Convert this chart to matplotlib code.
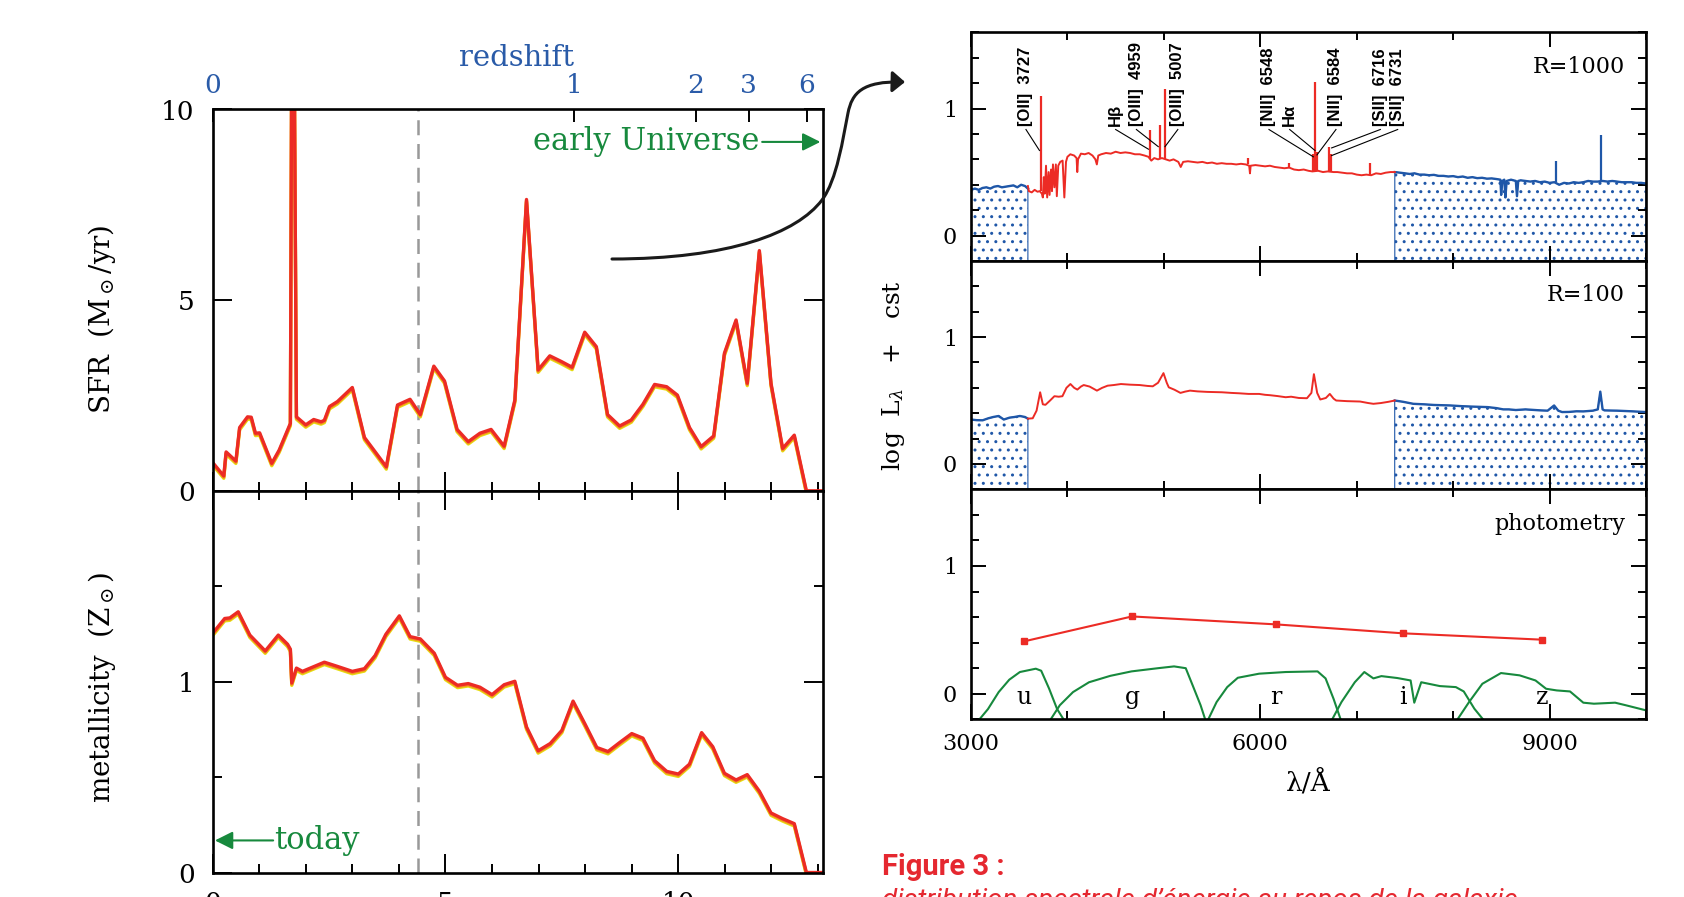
import numpy as np
import matplotlib.pyplot as plt
import matplotlib.transforms as mtransforms
from matplotlib.patches import FancyArrowPatch
from matplotlib.path import Path
from matplotlib.ticker import FixedLocator, MultipleLocator, NullLocator

plt.rcParams['font.family'] = ['DejaVu Serif']
plt.rcParams['mathtext.fontset'] = 'dejavuserif'
plt.rcParams['hatch.linewidth'] = 1.0

RED = '#ec2b25'
BLUE = '#1f57a8'
GREEN = '#17893d'
ZBLUE = '#2a5ba8'
ORANGE = '#f39020'
YELLOW = '#e6de10'
CAP = '#e52830'

# ---- star formation history (lookback time in Gyr) ----
sfr_t = [0.03, 0.24, 0.29, 0.50, 0.58, 0.75, 0.83, 0.92, 1.01, 1.27,
         1.43, 1.67, 1.70, 1.75, 1.80, 2.00, 2.17, 2.33, 2.40, 2.51,
         2.68, 3.00, 3.26, 3.73, 3.97, 4.24, 4.46, 4.75, 4.98, 5.25,
         5.49, 5.74, 5.98, 6.26, 6.49, 6.74, 6.99, 7.24, 7.49, 7.72,
         7.99, 8.24, 8.48, 8.74, 8.99, 9.24, 9.49, 9.75, 9.98, 10.24,
         10.49, 10.76, 10.99, 11.24, 11.48, 11.74, 11.99, 12.24, 12.49, 12.75,
         13.1]
sfr = [0.70, 0.39, 1.02, 0.78, 1.66, 1.94, 1.93, 1.51, 1.52, 0.72,
       1.07, 1.77, 12.0, 12.0, 1.94, 1.73, 1.87, 1.81, 1.85, 2.21,
       2.34, 2.71, 1.40, 0.63, 2.25, 2.40, 2.00, 3.27, 2.88, 1.61,
       1.29, 1.51, 1.61, 1.17, 2.38, 7.64, 3.17, 3.54, 3.39, 3.24,
       4.16, 3.78, 2.00, 1.70, 1.86, 2.27, 2.79, 2.73, 2.51, 1.66,
       1.16, 1.44, 3.61, 4.48, 2.82, 6.30, 2.82, 1.11, 1.46, 0.0,
       0.0]

met_t = [0.03, 0.26, 0.37, 0.55, 0.80, 1.13, 1.41, 1.61, 1.67, 1.70,
         1.80, 1.93, 2.40, 2.68, 3.00, 3.26, 3.49, 3.72, 4.01, 4.24,
         4.46, 4.76, 5.00, 5.26, 5.49, 5.74, 6.00, 6.26, 6.49, 6.74,
         6.99, 7.25, 7.50, 7.74, 8.00, 8.25, 8.49, 8.74, 9.00, 9.24,
         9.49, 9.75, 10.00, 10.24, 10.50, 10.74, 10.99, 11.24, 11.48, 11.74,
         11.99, 12.24, 12.49, 12.75, 13.1]
met = [1.262, 1.331, 1.334, 1.366, 1.244, 1.161, 1.244, 1.196, 1.17, 0.993,
       1.071, 1.054, 1.102, 1.080, 1.054, 1.068, 1.137, 1.248, 1.345, 1.236,
       1.224, 1.149, 1.023, 0.981, 0.990, 0.971, 0.932, 0.984, 1.002, 0.763,
       0.638, 0.676, 0.745, 0.898, 0.776, 0.655, 0.634, 0.681, 0.728, 0.704,
       0.586, 0.530, 0.516, 0.568, 0.733, 0.659, 0.520, 0.485, 0.513, 0.426,
       0.312, 0.282, 0.256, 0.0, 0.0]

cut_time = 4.42
z_labels = ['0', '1', '2', '3', '6']
z_time = [0.0, 7.77, 10.38, 11.51, 12.76]

# ---- R=1000 spectrum ----
hr_b1_wl = [3000, 3040, 3080, 3120, 3160, 3200, 3240, 3280, 3320, 3360,
            3400, 3440, 3480, 3520, 3560, 3590]
hr_b1_v = [0.36, 0.37, 0.36, 0.375, 0.38, 0.37, 0.385, 0.39, 0.38, 0.385,
           0.39, 0.395, 0.38, 0.40, 0.39, 0.37]
hr_r_wl = [3590, 3600, 3630, 3660, 3690, 3712, 3735, 3745, 3755, 3765, 3778, 3790,
           3805, 3815, 3830, 3840, 3850, 3865, 3880, 3890, 3905, 3925, 3950, 3968,
           3985, 4000, 4030, 4070, 4095, 4102, 4110, 4140, 4180, 4220, 4260, 4290,
           4305, 4320, 4350, 4400, 4450, 4500, 4550, 4600, 4650, 4700, 4750, 4800,
           4840, 4870, 4900, 4940, 4980, 5020, 5060, 5100, 5150, 5175, 5200, 5250,
           5300, 5350, 5400, 5450, 5500, 5550, 5600, 5650, 5700, 5750, 5800, 5850,
           5885, 5893, 5900, 5950, 6000, 6050, 6100, 6150, 6200, 6250, 6300, 6350,
           6400, 6450, 6500, 6540, 6600, 6650, 6700, 6760, 6800, 6850, 6900, 6950,
           7000, 7050, 7100, 7150, 7200, 7250, 7300, 7350, 7395]
hr_r_v = [0.39, 0.35, 0.34, 0.36, 0.345, 0.35, 0.33, 0.30, 0.46, 0.33, 0.55, 0.30,
          0.50, 0.32, 0.52, 0.35, 0.56, 0.38, 0.56, 0.31, 0.55, 0.58, 0.59, 0.30,
          0.58, 0.62, 0.64, 0.63, 0.61, 0.50, 0.60, 0.645, 0.64, 0.65, 0.63, 0.60,
          0.56, 0.63, 0.64, 0.65, 0.645, 0.66, 0.65, 0.655, 0.65, 0.64, 0.64, 0.63,
          0.62, 0.59, 0.61, 0.60, 0.61, 0.60, 0.59, 0.60, 0.58, 0.54, 0.58, 0.585,
          0.58, 0.575, 0.58, 0.57, 0.575, 0.565, 0.57, 0.565, 0.565, 0.56, 0.565, 0.56,
          0.55, 0.49, 0.55, 0.555, 0.55, 0.545, 0.55, 0.54, 0.535, 0.53, 0.535, 0.52,
          0.515, 0.52, 0.51, 0.505, 0.51, 0.50, 0.505, 0.50, 0.50, 0.495, 0.49, 0.49,
          0.48, 0.475, 0.48, 0.475, 0.49, 0.485, 0.495, 0.50, 0.50]
hr_b2_wl = [7395, 7450, 7500, 7550, 7600, 7650, 7700, 7750, 7800, 7850,
            7900, 7950, 8000, 8050, 8100, 8150, 8200, 8250, 8300, 8350,
            8400, 8450, 8490, 8498, 8510, 8530, 8542, 8555, 8600, 8650,
            8662, 8675, 8700, 8750, 8800, 8850, 8900, 8950, 9000, 9050,
            9100, 9150, 9200, 9250, 9300, 9350, 9400, 9450, 9500, 9550,
            9600, 9650, 9700, 9750, 9800, 9850, 9900, 9950, 10000]
hr_b2_v = [0.50, 0.495, 0.49, 0.485, 0.49, 0.48, 0.48, 0.475, 0.478, 0.47,
           0.47, 0.465, 0.468, 0.46, 0.465, 0.455, 0.46, 0.452, 0.455, 0.448,
           0.45, 0.445, 0.44, 0.32, 0.43, 0.44, 0.30, 0.43, 0.44, 0.43,
           0.31, 0.43, 0.435, 0.43, 0.425, 0.43, 0.42, 0.425, 0.415, 0.42,
           0.40, 0.415, 0.41, 0.42, 0.415, 0.42, 0.43, 0.425, 0.425, 0.43,
           0.425, 0.43, 0.425, 0.42, 0.42, 0.42, 0.415, 0.415, 0.41]

em_wl = [3727, 4861, 4959, 5007, 5876, 6300, 6548, 6563, 6584, 6716, 6731, 7136]
em_base = [0.35, 0.60, 0.60, 0.60, 0.56, 0.53, 0.51, 0.51, 0.51, 0.50, 0.50, 0.48]
em_peak = [1.10, 0.83, 0.87, 1.15, 0.61, 0.57, 0.64, 1.21, 0.66, 0.70, 0.64, 0.57]
em_b_wl = [9069, 9532]
em_b_base = [0.42, 0.425]
em_b_peak = [0.59, 0.79]

line_names = ['[OII]  3727', 'H\u03b2', '[OIII]  4959', '[OIII]  5007', '[NII]  6548',
              'H\u03b1', '[NII]  6584', '[SII]  6716', '[SII]  6731']
label_wl = [3570, 4500, 4715, 5145, 6090, 6305, 6785, 7245, 7425]
target_wl = [3710, 4840, 4942, 5012, 6550, 6567, 6588, 6740, 6740]
target_v = [0.67, 0.68, 0.70, 0.70, 0.62, 0.67, 0.635, 0.69, 0.63]

# ---- R=100 spectrum ----
lr_b1_wl = [3000, 3060, 3121, 3180, 3230, 3287, 3340, 3400, 3450, 3507, 3560, 3590]
lr_b1_v = [0.35, 0.345, 0.344, 0.36, 0.37, 0.378, 0.35, 0.365, 0.37, 0.378, 0.37, 0.357]
lr_r_wl = [3590, 3640, 3680, 3717, 3745, 3772, 3820, 3865, 3910, 3948, 3990, 4031,
           4070, 4103, 4140, 4169, 4230, 4306, 4360, 4417, 4480, 4555, 4650, 4750,
           4830, 4885, 4940, 4996, 5030, 5051, 5110, 5172, 5220, 5271, 5350, 5450,
           5602, 5700, 5780, 5878, 5988, 6050, 6100, 6180, 6263, 6320, 6400, 6484,
           6530, 6556, 6590, 6622, 6680, 6721, 6760, 6787, 6900, 7035, 7120, 7173,
           7250, 7330, 7394]
lr_r_v = [0.357, 0.36, 0.42, 0.565, 0.47, 0.466, 0.50, 0.534, 0.53, 0.534, 0.60, 0.63,
          0.60, 0.586, 0.61, 0.622, 0.61, 0.578, 0.60, 0.617, 0.622, 0.63, 0.625, 0.622,
          0.615, 0.612, 0.64, 0.716, 0.64, 0.604, 0.585, 0.56, 0.57, 0.578, 0.572, 0.568,
          0.565, 0.56, 0.557, 0.552, 0.552, 0.545, 0.542, 0.535, 0.526, 0.53, 0.52, 0.518,
          0.56, 0.708, 0.56, 0.508, 0.52, 0.552, 0.515, 0.50, 0.495, 0.492, 0.48, 0.474,
          0.48, 0.49, 0.50]
lr_b2_wl = [7394, 7480, 7587, 7700, 7800, 7972, 8100, 8200, 8358, 8450, 8520, 8578,
            8650, 8750, 8910, 8980, 9047, 9090, 9130, 9200, 9280, 9350, 9450, 9500,
            9526, 9550, 9570, 9700, 9850, 10000]
lr_b2_v = [0.50, 0.49, 0.474, 0.47, 0.465, 0.461, 0.455, 0.452, 0.448, 0.44, 0.43, 0.43,
           0.425, 0.43, 0.422, 0.42, 0.461, 0.42, 0.409, 0.41, 0.415, 0.414, 0.42, 0.43,
           0.57, 0.43, 0.422, 0.42, 0.415, 0.409]

# ---- photometry ----
bands = ['u', 'g', 'r', 'i', 'z']
ph_wl = [3551, 4670, 6159, 7476, 8926]
ph_v = [0.41, 0.605, 0.543, 0.473, 0.423]
u_wl = [3066, 3176, 3287, 3397, 3507, 3672, 3728, 3810, 3893, 3976]
u_v = [-0.22, -0.12, 0.013, 0.11, 0.17, 0.196, 0.18, 0.04, -0.12, -0.22]
g_wl = [3810, 3921, 4058, 4224, 4444, 4665, 4940, 5106, 5227, 5299, 5381, 5437]
g_v = [-0.22, -0.09, 0.013, 0.09, 0.14, 0.175, 0.2, 0.214, 0.2, 0.065, -0.09, -0.22]
r_wl = [5448, 5547, 5657, 5767, 5988, 6263, 6594, 6677, 6760, 6842]
r_v = [-0.22, -0.065, 0.052, 0.125, 0.157, 0.17, 0.175, 0.12, -0.04, -0.22]
i_wl = [6732, 6842, 6980, 7079, 7173, 7256, 7421, 7559, 7597, 7669, 7862, 8028, 8110, 8220, 8331]
i_v = [-0.22, -0.065, 0.09, 0.17, 0.12, 0.138, 0.123, 0.104, -0.07, 0.09, 0.06, 0.052, 0.018, -0.117, -0.22]
z_wl = [8028, 8165, 8303, 8496, 8689, 8854, 8964, 9074, 9212, 9350, 9460, 9680, 9790, 10000]
z_v = [-0.22, -0.065, 0.078, 0.162, 0.144, 0.104, 0.039, 0.026, 0.018, -0.07, -0.078, -0.07, -0.09, -0.13]

W, H = 1684, 897
fig = plt.figure(figsize=(W / 100, H / 100), dpi=100)


def box(x0, y0, x1, y1):
    # pixel box measured from the top-left corner
    return [x0 / W, 1 - y1 / H, (x1 - x0) / W, (y1 - y0) / H]


def frame(ax, major, minor, size, pad):
    for s in ax.spines.values():
        s.set_linewidth(1.9)
    ax.tick_params(which='both', direction='in', top=True, right=True, width=1.4,
                   labelsize=size, pad=pad)
    ax.tick_params(which='major', length=major)
    ax.tick_params(which='minor', length=minor)


def band(ax, x, y):
    # yellow / orange / red stack of the model curves
    for dy, c in ((-2.4, YELLOW), (-1.2, ORANGE), (0.0, RED)):
        tr = mtransforms.offset_copy(ax.transData, fig=fig, x=0, y=dy, units='dots')
        ax.plot(x, y, color=c, lw=2.4, transform=tr)


# ---- left: SFR and metallicity ----
ax_sfr = fig.add_axes(box(212.6, 109.5, 822.7, 490.8))
ax_met = fig.add_axes(box(212.6, 490.8, 822.7, 872.5))
for ax in (ax_sfr, ax_met):
    frame(ax, 13.7, 6.5, 19, 13)
    ax.set_xlim(0, 13.1)
    ax.xaxis.set_major_locator(FixedLocator([0, 5, 10]))
    ax.xaxis.set_minor_locator(MultipleLocator(1))
    ax.axvline(cut_time, color='#999999', lw=1.8, ls=(0, (6, 3.5)), zorder=1)
ax_sfr.tick_params(axis='x', which='both', top=False, labelbottom=False)

ax_sfr.set_ylim(0, 10)
ax_sfr.yaxis.set_major_locator(FixedLocator([0, 5, 10]))
band(ax_sfr, sfr_t, sfr)

ax_met.set_ylim(0, 2)
ax_met.yaxis.set_major_locator(FixedLocator([0, 1]))
ax_met.yaxis.set_minor_locator(FixedLocator([0.5, 1.5]))
band(ax_met, met_t, met)

ax_zs = ax_sfr.twiny()
ax_zs.set_xlim(0, 13.1)
ax_zs.xaxis.set_major_locator(FixedLocator(z_time))
ax_zs.xaxis.set_minor_locator(NullLocator())
ax_zs.set_xticklabels(z_labels)
ax_zs.tick_params(axis='x', direction='in', length=9.4, width=1.4, labelsize=19,
                  labelcolor=ZBLUE, pad=8)
for s in ax_zs.spines.values():
    s.set_visible(False)
ax_sfr.text(0.498, 1.113, 'redshift', transform=ax_sfr.transAxes, color=ZBLUE,
            fontsize=21, ha='center', va='baseline')

ax_sfr.text(11.75, 9.15, 'early Universe', color=GREEN, fontsize=22, ha='right', va='center')
ax_sfr.annotate('', xy=(13.05, 9.15), xytext=(11.8, 9.15),
                arrowprops=dict(arrowstyle='-|>,head_length=0.6,head_width=0.3',
                                color=GREEN, lw=1.5, shrinkA=0, shrinkB=0, mutation_scale=18))
ax_met.text(1.32, 0.168, 'today', color=GREEN, fontsize=22, ha='left', va='center')
ax_met.annotate('', xy=(0.05, 0.168), xytext=(1.3, 0.168),
                arrowprops=dict(arrowstyle='-|>,head_length=0.6,head_width=0.3',
                                color=GREEN, lw=1.5, shrinkA=0, shrinkB=0, mutation_scale=18))

fig.text(102 / W, 1 - 319 / H, 'SFR  (M$_\\odot$/yr)', rotation=90, fontsize=20,
         ha='center', va='center')
fig.text(102 / W, 1 - 687 / H, 'metallicity  (Z$_\\odot$)', rotation=90, fontsize=20,
         ha='center', va='center')

# ---- right: spectra ----
ax_hr = fig.add_axes(box(971, 32.3, 1646, 261))
ax_lr = fig.add_axes(box(971, 261, 1646, 489.3))
ax_ph = fig.add_axes(box(971, 489.3, 1646, 719.3))
for ax in (ax_hr, ax_lr, ax_ph):
    frame(ax, 10.5, 5.5, 16, 10)
    ax.set_xlim(3000, 10000)
    ax.set_ylim(-0.2, 1.6)
    ax.xaxis.set_major_locator(FixedLocator([3000, 6000, 9000]))
    ax.xaxis.set_minor_locator(MultipleLocator(1000))
    ax.yaxis.set_major_locator(FixedLocator([0, 1]))
    ax.yaxis.set_minor_locator(MultipleLocator(0.2))
for ax in (ax_hr, ax_lr):
    ax.tick_params(axis='x', labelbottom=False)

for ax, parts in ((ax_hr, (hr_b1_wl, hr_b1_v, hr_r_wl, hr_r_v, hr_b2_wl, hr_b2_v)),
                  (ax_lr, (lr_b1_wl, lr_b1_v, lr_r_wl, lr_r_v, lr_b2_wl, lr_b2_v))):
    b1x, b1y, rx, ry, b2x, b2y = parts
    for bx, by in ((b1x, b1y), (b2x, b2y)):
        ax.fill_between(bx, -0.3, by, facecolor='none', edgecolor=BLUE, hatch='..', lw=0.8)
        ax.plot(bx, by, color=BLUE, lw=1.7)
    ax.plot(rx, ry, color=RED, lw=1.4)

ax_hr.vlines(em_wl, em_base, em_peak, color=RED, lw=1.6)
ax_hr.vlines(em_b_wl, em_b_base, em_b_peak, color=BLUE, lw=1.6)
for name, lx, tx, ty in zip(line_names, label_wl, target_wl, target_v):
    ax_hr.text(lx, 0.86, name, rotation=90, ha='center', va='bottom', fontsize=12,
               family='Liberation Sans', weight='bold')
    ax_hr.plot([lx, tx], [0.835, ty], color='black', lw=0.8)

ax_hr.text(9782, 1.33, 'R=1000', ha='right', va='center', fontsize=16)
ax_lr.text(9782, 1.33, 'R=100', ha='right', va='center', fontsize=16)
ax_ph.text(9782, 1.33, 'photometry', ha='right', va='center', fontsize=16)

for fx, fy in ((u_wl, u_v), (g_wl, g_v), (r_wl, r_v), (i_wl, i_v), (z_wl, z_v)):
    ax_ph.plot(fx, fy, color=GREEN, lw=1.5)
ax_ph.plot(ph_wl, ph_v, color=RED, lw=1.5, marker='s', ms=4.5)
for b, x in zip(bands, ph_wl):
    ax_ph.text(x, -0.03, b, ha='center', va='center', fontsize=17)

fig.text(893 / W, 1 - 376 / H, 'log  L$_\\lambda$   +   cst', rotation=90, fontsize=18,
         ha='center', va='center')
fig.text(1308 / W, 1 - 782 / H, '\u03bb/\u00c5', fontsize=19, ha='center', va='center')

# curved arrow from the SFR panel to the spectra (pixel points, top-left origin)
pts = [(612, 259), (730, 259), (797, 233), (822, 200),
       (837, 180), (843, 138), (848, 113),
       (852, 93), (862, 81), (905, 82)]
codes = [Path.MOVETO] + [Path.CURVE4] * 9
arrow = FancyArrowPatch(path=Path([(x / W, 1 - y / H) for x, y in pts], codes),
                        arrowstyle='-|>,head_length=0.38,head_width=0.32', mutation_scale=20,
                        lw=2.2, color='#1a1a1a', transform=fig.transFigure)
fig.add_artist(arrow)

fig.text(882 / W, 1 - 875 / H, 'Figure 3 :', color=CAP, fontsize=21, family='Roboto',
         weight='bold', va='baseline')
fig.text(882 / W, 1 - 908 / H, 'distribution spectrale d\u2019\u00e9nergie au repos de la galaxie',
         color=CAP, fontsize=20, family='Roboto', style='italic', va='baseline')

fig.savefig('out.png', dpi=100)
